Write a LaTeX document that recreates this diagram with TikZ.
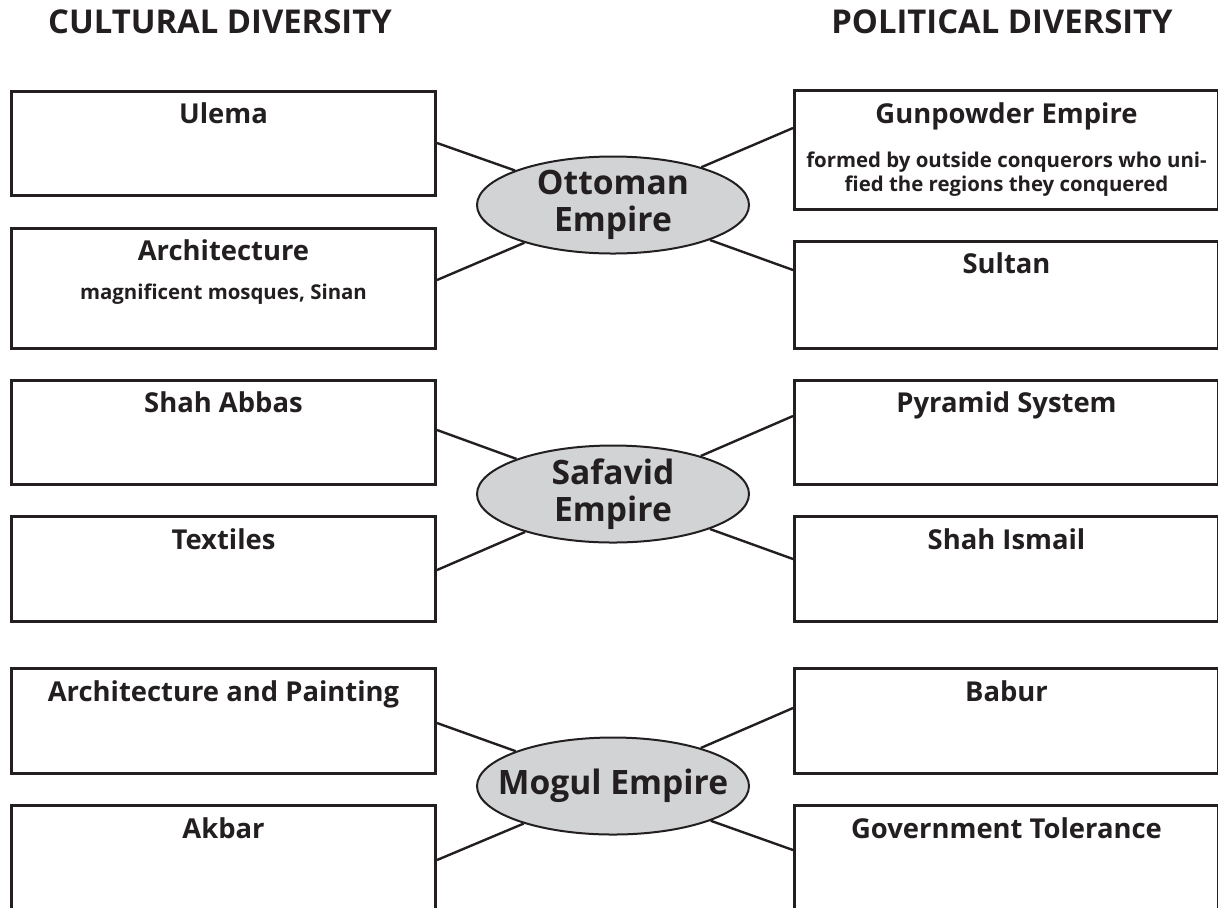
\documentclass[tikz,border=0pt]{standalone}
\usepackage{fontspec}
\setmainfont{Open Sans}
\usetikzlibrary{shapes.geometric}
\definecolor{inkgray}{RGB}{35,31,32}
\definecolor{empirefill}{RGB}{209,211,212}
\tikzset{
  heading/.style={font=\bfseries\fontsize{16.4}{19}\selectfont, text=inkgray, anchor=base},
  fieldbox/.style={draw=inkgray, line width=1.5pt, minimum width=212pt, anchor=north west, inner sep=0pt},
  boxtitle/.style={font=\bfseries\fontsize{13.7}{16}\selectfont, text=inkgray, anchor=base},
  boxnote/.style={font=\bfseries\fontsize{10.2}{12}\selectfont, text=inkgray, anchor=base, align=center},
  empire/.style={ellipse, draw=inkgray, line width=1pt, fill=empirefill, minimum width=136pt, minimum height=48.5pt, inner sep=0pt},
  empirename/.style={font=\bfseries\fontsize{16.8}{18.5}\selectfont, text=inkgray, align=center},
  link/.style={draw=inkgray, line width=1.2pt}
}
\begin{document}
\begin{tikzpicture}[x=0.5pt,y=-0.5pt]
\useasboundingbox (0,0) rectangle (1218,907);
\clip (0,0) rectangle (1218,907);
% Column headings
\node[heading] (cultural) at (220,33) {CULTURAL DIVERSITY};
\node[heading] (political) at (1002,33) {POLITICAL DIVERSITY};
% Ottoman Empire
\node[fieldbox, minimum height=52pt, label={[boxtitle, yshift=-16.5pt]north:Ulema}] (ulema) at (10,90) {};
\node[fieldbox, minimum height=60pt, label={[boxtitle, yshift=-16.5pt]north:Architecture}, label={[boxnote, yshift=-36pt]north:magnificent mosques, Sinan}] (archi) at (10,227) {};
\node[fieldbox, minimum height=59.5pt, label={[boxtitle, yshift=-17pt]north:Gunpowder Empire}, label={[boxnote, yshift=-51pt]north:formed by outside conquerors who uni-\\fied the regions they conquered}] (gunpowder) at (793,89) {};
\node[fieldbox, minimum height=53.5pt, label={[boxtitle, yshift=-16.5pt]north:Sultan}] (sultan) at (793,240) {};
\node[empire, label={[empirename]center:Ottoman\\Empire}] (ottoman) at (613,205) {};
\draw[link] ([yshift=-26.5pt]ulema.north east) -- (ottoman);
\draw[link] ([yshift=-26.5pt]archi.north east) -- (ottoman);
\draw[link] ([yshift=-19.5pt]gunpowder.north west) -- (ottoman);
\draw[link] ([yshift=-15pt]sultan.north west) -- (ottoman);
% Safavid Empire
\node[fieldbox, minimum height=52pt, label={[boxtitle, yshift=-16.5pt]north:Shah Abbas}] (abbas) at (10,379) {};
\node[fieldbox, minimum height=52.5pt, label={[boxtitle, yshift=-17pt]north:Textiles}] (textiles) at (10,515) {};
\node[fieldbox, minimum height=52pt, label={[boxtitle, yshift=-16.5pt]north:Pyramid System}] (pyramid) at (793,379) {};
\node[fieldbox, minimum height=52.5pt, label={[boxtitle, yshift=-17pt]north:Shah Ismail}] (ismail) at (793,515) {};
\node[empire, label={[empirename]center:Safavid\\Empire}] (safavid) at (613,494) {};
\draw[link] ([yshift=-25.5pt]abbas.north east) -- (safavid);
\draw[link] ([yshift=-27.5pt]textiles.north east) -- (safavid);
\draw[link] ([yshift=-18.5pt]pyramid.north west) -- (safavid);
\draw[link] ([yshift=-22pt]ismail.north west) -- (safavid);
% Mogul Empire
\node[fieldbox, minimum height=52.5pt, label={[boxtitle, yshift=-17pt]north:Architecture and Painting}] (painting) at (10,667) {};
\node[fieldbox, minimum height=70pt, label={[boxtitle, yshift=-17pt]north:Akbar}] (akbar) at (10,804) {};
\node[fieldbox, minimum height=52.5pt, label={[boxtitle, yshift=-17pt]north:Babur}] (babur) at (793,667) {};
\node[fieldbox, minimum height=70pt, label={[boxtitle, yshift=-17pt]north:Government Tolerance}] (tolerance) at (793,804) {};
\node[empire, label={[empirename]center:Mogul Empire}] (mogul) at (613,786) {};
\draw[link] ([yshift=-28pt]painting.north east) -- (mogul);
\draw[link] ([yshift=-28pt]akbar.north east) -- (mogul);
\draw[link] ([yshift=-20.5pt]babur.north west) -- (mogul);
\draw[link] ([yshift=-23pt]tolerance.north west) -- (mogul);
\end{tikzpicture}
\end{document}
